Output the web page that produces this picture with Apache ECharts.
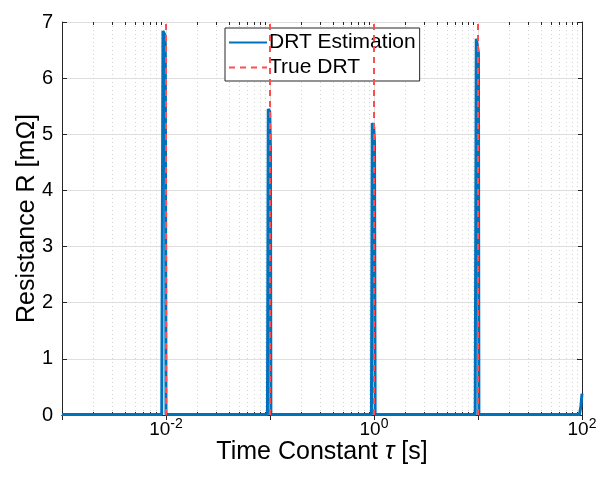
<!DOCTYPE html>
<html><head><meta charset="utf-8">
<script src="https://cdn.jsdelivr.net/npm/echarts@6/dist/echarts.min.js"></script>
<style>html,body{margin:0;padding:0;background:#fff}#c{width:602px;height:487px}</style>
</head><body><div id="c"></div>
<script>
// DRT Estimation (tau [s], R [mOhm])
const estTau = [0.001, 0.0091, 0.00935, 0.0097, 0.00985, 0.0100,
  0.0945, 0.0962, 0.0995, 0.1010, 0.1020,
  0.945, 0.962, 0.995, 1.012, 1.025,
  9.40, 9.62, 9.95, 10.10, 10.20,
  94.5, 97.5, 100];
const estR = [0.01, 0.01, 6.84, 6.78, 6.60, 0.01,
  0.01, 5.45, 5.40, 4.75, 0.01,
  0.01, 5.20, 5.12, 4.85, 0.01,
  0.01, 6.70, 6.67, 6.45, 0.01,
  0.01, 0.15, 0.38];
// True DRT peak locations
const trueTau = [0.01, 0.1, 1, 10];
// Axis ticks
const xLabeledExp = [-2, 0, 2];
const yTicks = [0, 1, 2, 3, 4, 5, 6, 7];
const minorTau = [0.002,0.003,0.004,0.005,0.006,0.007,0.008,0.009,
  0.02,0.03,0.04,0.05,0.06,0.07,0.08,0.09,
  0.2,0.3,0.4,0.5,0.6,0.7,0.8,0.9,
  2,3,4,5,6,7,8,9,
  20,30,40,50,60,70,80,90];

const FONT = 'Liberation Sans, Arial, Helvetica, sans-serif';
const AX = '#262626';
const chart = echarts.init(document.getElementById('c'), null, {renderer: 'canvas'});

const estData = estTau.map((t, i) => [t, estR[i]]);

function xFmt(v) {
  const e = Math.round(Math.log10(v));
  if (xLabeledExp.indexOf(e) < 0) return '';
  return '{b|10}{s|' + e + '}';
}

const option = {
  animation: false,
  backgroundColor: '#fff',
  grid: {left: 62, right: 20, top: 22, bottom: 72, containLabel: false},
  legend: {
    orient: 'vertical', left: 225, top: 28,
    backgroundColor: '#fff', borderColor: AX, borderWidth: 1, borderRadius: 0,
    padding: [4, 4, 3, 3], itemGap: 4, itemWidth: 38, itemHeight: 12,
    textStyle: {fontFamily: FONT, fontSize: 21, color: '#000', padding: [0, 0, 0, -3]},
    itemStyle: {opacity: 0},
    data: [{name: 'DRT Estimation'}, {name: 'True DRT'}]
  },
  xAxis: [{
    type: 'log', logBase: 10, min: 0.001, max: 100,
    position: 'bottom',
    name: 'Time Constant {i|τ} [s]', nameLocation: 'middle', nameGap: 25,
    nameMoveOverlap: false,
    nameTextStyle: {fontFamily: FONT, fontSize: 25, color: '#000',
      rich: {i: {fontFamily: FONT, fontSize: 25, fontStyle: 'italic', color: '#000'}}},
    axisLine: {show: true, lineStyle: {color: AX, width: 1}},
    axisTick: {show: true, inside: true, length: 5, lineStyle: {color: AX}},
    minorTick: {show: false},
    axisLabel: {
      formatter: xFmt, margin: 2, showMinLabel: true, showMaxLabel: true, hideOverlap: false,
      rich: {
        b: {fontFamily: FONT, fontSize: 19, color: '#000', verticalAlign: 'bottom', lineHeight: 22},
        s: {fontFamily: FONT, fontSize: 14, color: '#000', verticalAlign: 'top', lineHeight: 22, padding: [0, 0, 10, 0]}
      }
    },
    splitLine: {show: true, lineStyle: {color: '#dfdfdf', width: 1}}
  }, {
    type: 'log', logBase: 10, min: 0.001, max: 100, position: 'top',
    axisLine: {show: true, lineStyle: {color: AX, width: 1}},
    axisTick: {show: true, inside: true, length: 5, lineStyle: {color: AX}},
    axisLabel: {show: false}, splitLine: {show: false}
  }],
  yAxis: [{
    type: 'value', min: 0, max: 7, interval: 1, position: 'left',
    name: 'Resistance R [mΩ]', nameLocation: 'middle', nameGap: 22,
    nameMoveOverlap: false,
    nameTextStyle: {fontFamily: FONT, fontSize: 25, color: '#000'},
    axisLine: {show: true, lineStyle: {color: AX, width: 1}},
    axisTick: {show: true, inside: true, length: 5, lineStyle: {color: AX}},
    axisLabel: {fontFamily: FONT, fontSize: 20, color: '#000', margin: 9,
      formatter: v => (yTicks.indexOf(v) >= 0 ? String(v) : '')},
    splitLine: {show: true, lineStyle: {color: '#dfdfdf', width: 1}}
  }, {
    type: 'value', min: 0, max: 7, interval: 1, position: 'right',
    axisLine: {show: true, lineStyle: {color: AX, width: 1}},
    axisTick: {show: true, inside: true, length: 5, lineStyle: {color: AX}},
    axisLabel: {show: false}, splitLine: {show: false}
  }],
  series: [{
    name: 'minor', type: 'custom', xAxisIndex: 0, yAxisIndex: 0, z: 1, silent: true,
    clip: false,
    data: minorTau.map(t => [t, 0]),
    renderItem: function (params, api) {
      const x = Math.round(api.coord([api.value(0), 0])[0]) + 0.5;
      const cs = params.coordSys;
      const top = cs.y, bot = cs.y + cs.height;
      return {type: 'group', children: [
        {type: 'line', shape: {x1: x, y1: top, x2: x, y2: bot},
          style: {stroke: '#d2d2d2', lineWidth: 1, lineDash: [1, 3]}},
        {type: 'line', shape: {x1: x, y1: bot, x2: x, y2: bot - 3},
          style: {stroke: AX, lineWidth: 1}},
        {type: 'line', shape: {x1: x, y1: top, x2: x, y2: top + 3},
          style: {stroke: AX, lineWidth: 1}}
      ]};
    }
  }, {
    name: 'DRT Estimation', type: 'line', z: 3,
    data: estData, showSymbol: false, symbol: 'none',
    lineStyle: {color: '#0072BD', width: 3, join: 'bevel'}, itemStyle: {color: '#0072BD'}
  }, {
    name: 'True DRT', type: 'line', z: 4, data: [], symbol: 'none',
    lineStyle: {color: '#ff4d4d', width: 2, type: [6, 5]}, itemStyle: {color: '#ff4d4d'},
    markLine: {
      silent: true, symbol: ['none', 'none'], label: {show: false},
      lineStyle: {color: '#ff4d4d', width: 2, type: [6, 5]},
      data: trueTau.map(t => ({xAxis: t}))
    }
  }]
};
chart.setOption(option);
</script>
</body></html>
